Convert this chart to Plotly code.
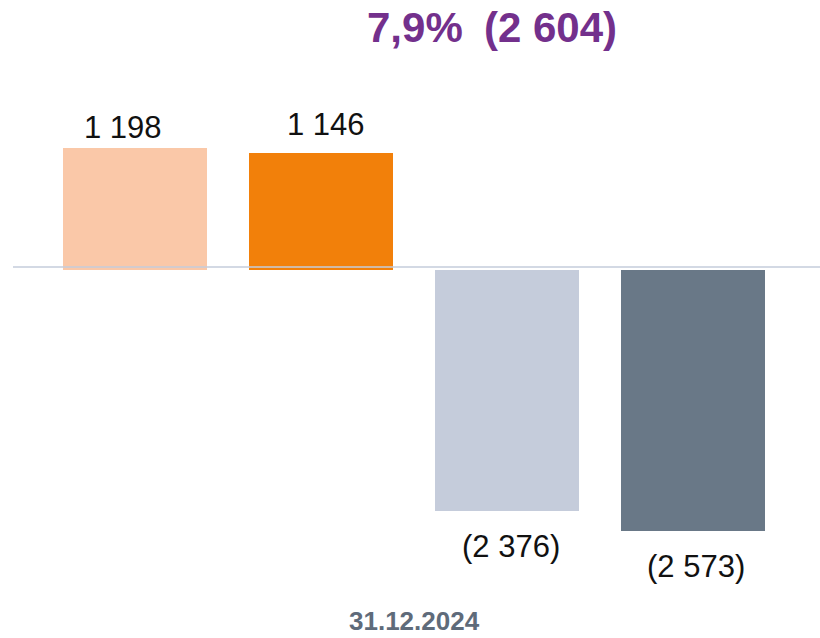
import plotly.graph_objects as go

# Values for 31.12.2024
categories = ["A", "B", "C", "D"]
values = [1198, 1146, -2376, -2573]
value_labels = ["1 198", "1 146", "(2 376)", "(2 573)"]
bar_colors = ["#FAC8A8", "#F2800A", "#C5CCDB", "#697887"]
period_label = "31.12.2024"
headline_ratio = "7,9%"
headline_total = "(2 604)"

# label offsets (pixels) relative to the bar end
label_dx = [-12, 5, 4, 3]
label_dy = [20, 29, -36, -36]

x_pos = list(range(len(categories)))

fig = go.Figure()
fig.add_trace(go.Bar(
    x=x_pos,
    y=values,
    width=0.769,
    marker=dict(color=bar_colors, line=dict(width=0)),
    hoverinfo="skip",
))

font_main = "Liberation Sans, Arial, sans-serif"

annotations = []
for i, (v, t) in enumerate(zip(values, value_labels)):
    annotations.append(dict(
        x=x_pos[i], y=v, xref="x", yref="y", text=t, showarrow=False,
        xanchor="center", yanchor="middle",
        xshift=label_dx[i], yshift=label_dy[i],
        font=dict(family=font_main, size=31, color="#111111"),
    ))

annotations.append(dict(
    x=0.5, y=-0.0830, xref="paper", yref="paper", text=f"<b>{period_label}</b>",
    showarrow=False, xanchor="center", yanchor="middle",
    font=dict(family=font_main, size=26, color="#5F6B7A"),
))
annotations.append(dict(
    x=0.502, y=1.0637, xref="paper", yref="paper", text=f"<b>{headline_ratio}</b>",
    showarrow=False, xanchor="center", yanchor="middle",
    font=dict(family=font_main, size=42, color="#73308C"),
))
annotations.append(dict(
    x=0.684, y=1.0637, xref="paper", yref="paper", text=f"<b>{headline_total}</b>",
    showarrow=False, xanchor="center", yanchor="middle",
    font=dict(family=font_main, size=42, color="#73308C"),
))

fig.update_layout(
    width=820, height=638,
    margin=dict(l=42, r=34, t=60, b=60),
    paper_bgcolor="white", plot_bgcolor="white",
    showlegend=False,
    bargap=0,
    xaxis=dict(range=[-0.5, 3.5], visible=False, fixedrange=True),
    yaxis=dict(range=[-3039, 2064], visible=False, zeroline=False, fixedrange=True),
    annotations=annotations,
    shapes=[dict(
        type="line", xref="paper", yref="y",
        x0=-0.039, x1=1.046, y0=25, y1=25,
        line=dict(color="#C5CCDB", width=1.5), layer="above",
    )],
)

fig.write_html("out.html")
